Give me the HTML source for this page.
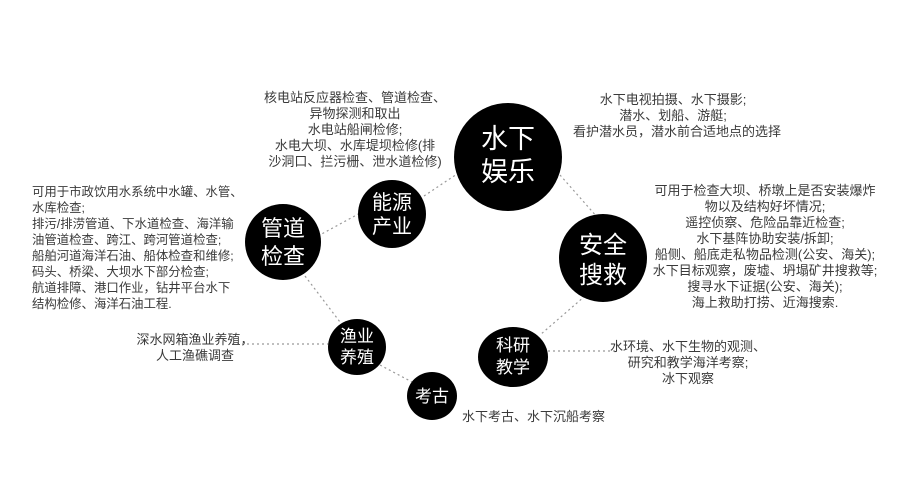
<!DOCTYPE html>
<html><head><meta charset="utf-8"><style>
body{margin:0;width:900px;height:500px;background:#fff;overflow:hidden;position:relative;font-family:"Liberation Sans","Noto Sans CJK SC",sans-serif;}
.t{position:absolute;font-size:13px;line-height:16px;color:#3a3a3a;white-space:nowrap;}
.c{text-align:center;}
svg{position:absolute;left:0;top:0;}
</style></head><body>
<svg width="900" height="500">
<g stroke="#999" stroke-width="1.2" stroke-dasharray="2,3" fill="none">
<line x1="318" y1="236" x2="362" y2="212"/>
<line x1="424" y1="196" x2="460" y2="172"/>
<line x1="560" y1="175" x2="598" y2="218"/>
<line x1="585" y1="296" x2="540" y2="335"/>
<line x1="305" y1="276" x2="340" y2="322"/>
<line x1="380" y1="365" x2="412" y2="382"/>
<line x1="232" y1="344" x2="328" y2="344"/>
<line x1="548" y1="351" x2="615" y2="351"/>
</g>
<g fill="#000">
<ellipse cx="508" cy="157" rx="54" ry="54"/>
<ellipse cx="603" cy="258" rx="44" ry="44"/>
<ellipse cx="392" cy="214" rx="34" ry="34"/>
<ellipse cx="283" cy="242" rx="38" ry="38"/>
<ellipse cx="357" cy="347" rx="29" ry="28"/>
<ellipse cx="432" cy="396" rx="25" ry="24"/>
<ellipse cx="513" cy="357" rx="35" ry="30"/>
</g>
<g fill="#fff" font-family="Liberation Sans,Noto Sans CJK SC,sans-serif" text-anchor="middle">
<text x="508" y="148" font-size="27">水下</text><text x="508" y="181" font-size="27">娱乐</text>
<text x="603" y="253" font-size="24">安全</text><text x="603" y="283" font-size="24">搜救</text>
<text x="392" y="209" font-size="20">能源</text><text x="392" y="233" font-size="20">产业</text>
<text x="283" y="236" font-size="22">管道</text><text x="283" y="264" font-size="22">检查</text>
<text x="357" y="342" font-size="17">渔业</text><text x="357" y="363" font-size="17">养殖</text>
<text x="432" y="402" font-size="17">考古</text>
<text x="513" y="351" font-size="17">科研</text><text x="513" y="373" font-size="17">教学</text>
</g>
</svg>
<div class="t c" style="left:255px;top:90px;width:200px">核电站反应器检查、管道检查、<br>异物探测和取出<br>水电站船闸检修;<br>水电大坝、水库堤坝检修(排<br>沙洞口、拦污栅、泄水道检修)</div>
<div class="t" style="left:32px;top:184px;font-size:12.4px">可用于市政饮用水系统中水罐、水管、<br>水库检查;<br>排污/排涝管道、下水道检查、海洋输<br>油管道检查、跨江、跨河管道检查;<br>船舶河道海洋石油、船体检查和维修;<br>码头、桥梁、大坝水下部分检查;<br>航道排障、港口作业，钻井平台水下<br>结构检修、海洋石油工程.</div>
<div class="t c" style="left:573px;top:92px;width:200px">水下电视拍摄、水下摄影;<br>潜水、划船、游艇;<br>看护潜水员，潜水前合适地点的选择</div>
<div class="t c" style="left:645px;top:183px;width:240px">可用于检查大坝、桥墩上是否安装爆炸<br>物以及结构好坏情况;<br>遥控侦察、危险品靠近检查;<br>水下基阵协助安装/拆卸;<br>船侧、船底走私物品检测(公安、海关);<br>水下目标观察，废墟、坍塌矿井搜救等;<br>搜寻水下证据(公安、海关);<br>海上救助打捞、近海搜索.</div>
<div class="t c" style="left:130px;top:332px;width:130px">深水网箱渔业养殖，<br>人工渔礁调查</div>
<div class="t c" style="left:608px;top:339px;width:160px">水环境、水下生物的观测、<br>研究和教学海洋考察;<br>冰下观察</div>
<div class="t" style="left:462px;top:409px">水下考古、水下沉船考察</div>
</body></html>
